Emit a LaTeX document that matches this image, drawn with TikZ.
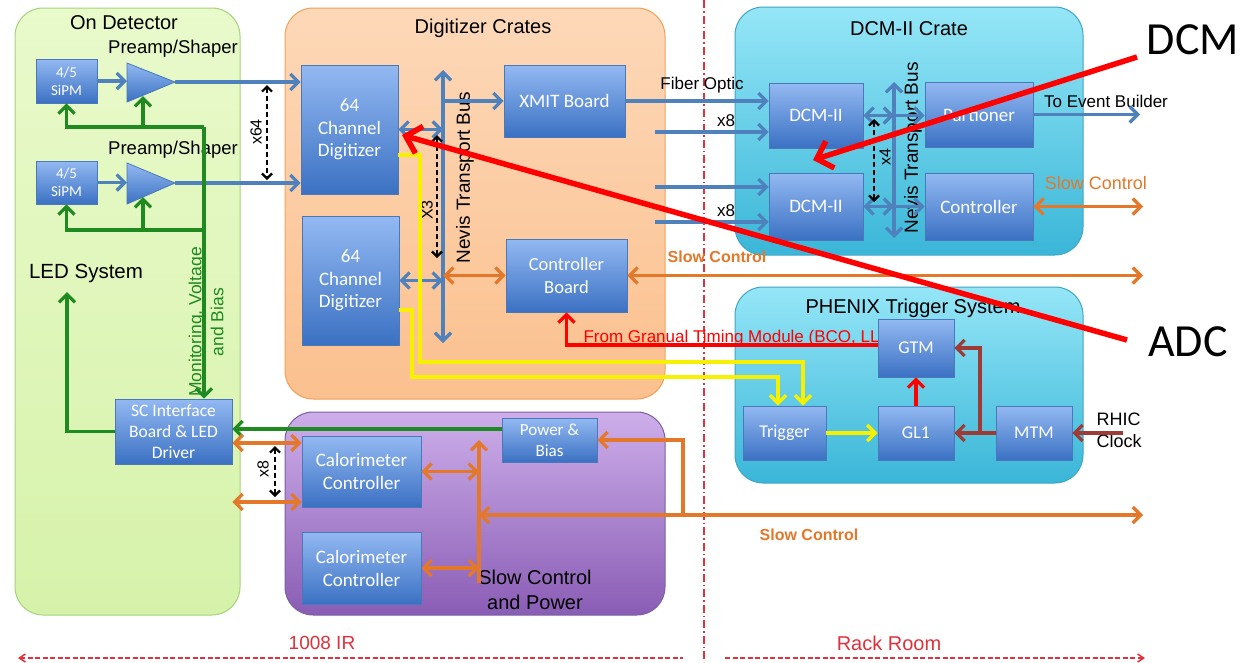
\documentclass[tikz,border=0pt]{standalone}
\usepackage{fontspec}
\setmainfont{Liberation Sans}
\newfontfamily\calfont{Carlito}
\usetikzlibrary{arrows.meta}
\definecolor{cBlue}{HTML}{4F81BD}
\definecolor{cGreen}{HTML}{1F8A1F}
\definecolor{cOrange}{HTML}{E3782A}
\definecolor{cYellow}{HTML}{F7F000}
\definecolor{cBrown}{HTML}{9E3B36}
\definecolor{cRed}{HTML}{FF0000}
\definecolor{cDiv}{HTML}{E0313C}
\definecolor{bxTop}{HTML}{93B9F2}
\definecolor{bxBot}{HTML}{3B71C3}
\definecolor{bxLine}{HTML}{4A78B8}
\definecolor{gTop}{HTML}{E9FACB}
\definecolor{gBot}{HTML}{D6F2AA}
\definecolor{gLine}{HTML}{A6D27C}
\definecolor{oTop}{HTML}{FDD8B8}
\definecolor{oBot}{HTML}{FBC08E}
\definecolor{oLine}{HTML}{F2A15A}
\definecolor{pTop}{HTML}{CDAEEA}
\definecolor{pBot}{HTML}{8A5DB5}
\definecolor{pLine}{HTML}{7D5FA0}
\definecolor{cyTop}{HTML}{95E6F7}
\definecolor{cyBot}{HTML}{3AB6D8}
\definecolor{cyLine}{HTML}{3FA6C4}
\newcommand\fsz[2]{\fontsize{#1}{#2}\selectfont}
\tikzset{
  bx/.style={rectangle, draw=bxLine, line width=0.8pt, top color=bxTop, bottom color=bxBot,
    text=white, align=center, inner sep=0pt, font=\calfont\fsz{19}{22.5}},
  panel/.style={rounded corners=28pt, line width=1pt},
  ln/.style={line width=3.2pt},
  bl/.style={ln, draw=cBlue},
  gr/.style={ln, draw=cGreen},
  orl/.style={ln, draw=cOrange},
  yl/.style={line width=3.4pt, draw=cYellow},
  br/.style={ln, draw=cBrown},
  rdl/.style={ln, draw=cRed},
  dashar/.style={<->, >={Straight Barb[length=5pt,width=10pt]}, draw=black, line width=2.2pt, dash pattern=on 5pt off 3pt},
  annot/.style={->, >={Straight Barb[length=14pt,width=28pt]}, draw=cRed, line width=5.5pt},
  lbl/.style={font=\fsz{17}{20}},
  ttl/.style={font=\fsz{20}{24}},
}
\begin{document}
\begin{tikzpicture}[x=1pt,y=-1pt, >={Straight Barb[length=8pt,width=16pt]}]
\useasboundingbox (0,0) rectangle (1251,662);
\fill[white] (0,0) rectangle (1251,662);

% panels
\path[panel, draw=gLine, top color=gTop, bottom color=gBot] (15,8) rectangle (240,615);
\path[panel, draw=oLine, top color=oTop, bottom color=oBot] (285,8) rectangle (665,399);
\path[panel, draw=pLine, top color=pTop, bottom color=pBot] (285,412) rectangle (665,615);
\path[panel, draw=cyLine, top color=cyTop, bottom color=cyBot] (735,7) rectangle (1083,255);
\path[panel, draw=cyLine, top color=cyTop, bottom color=cyBot] (735,287) rectangle (1083,483);

% titles
\node[ttl] (tOD) at (124,23) {On Detector};
\node[ttl] (tDC) at (483,28) {Digitizer Crates};
\node[ttl] (tDCM) at (909,29) {DCM-II Crate};
\node[ttl] (tPH) at (913,308) {PHENIX Trigger System};
\node[ttl, align=center, font=\fsz{20}{25}] (tSCP) at (535,590) {Slow Control\\and Power};

% dividers
\coordinate (vdT) at (704,0);
\coordinate (vdB) at (704,662);
\draw[cDiv, line width=1.3pt, dash pattern=on 8pt off 3pt on 1.5pt off 3pt] (vdT) -- (vdB);
\coordinate (irL) at (18,658);
\coordinate (irR) at (683,658);
\coordinate (rrL) at (725,658);
\coordinate (rrR) at (1145,658);
\draw[cDiv, line width=1.5pt, dash pattern=on 5pt off 2.5pt, <-, >={Straight Barb[length=6pt,width=8pt]}] (irL) -- (irR);
\draw[cDiv, line width=1.5pt, dash pattern=on 5pt off 2.5pt, ->, >={Straight Barb[length=6pt,width=8pt]}] (rrL) -- (rrR);
\node[text=cDiv, font=\fsz{19}{22}] (tIR) at (322,643) {1008 IR};
\node[text=cDiv, font=\fsz{20}{24}] (tRR) at (889,643) {Rack Room};

% red timing label (under the GTM box)
\node[text=cRed, anchor=base west, font=\fsz{17}{20}] (tGTM) at (580,342) {From Granual Timing Module (BCO, LL1)};

% labels
\node[font=\fsz{18.5}{22}] (tPA1) at (173,49) {Preamp/Shaper};
\node[font=\fsz{18.5}{22}] (tPA2) at (173,150) {Preamp/Shaper};
\node[font=\fsz{20.5}{24}] (tLED) at (86,273) {LED System};
\node[rotate=90, text=cGreen, align=center, font=\fsz{17.5}{22}] (tMon) at (206,322) {Monitoring, Voltage\\and Bias};
\node[rotate=90, font=\fsz{16}{19}] (tx64) at (256,132) {x64};
\node[rotate=90, font=\fsz{16}{19}] (tX3) at (427,210) {X3};
\node[rotate=90, font=\fsz{16}{19}] (tx4) at (885,157) {x4};
\node[rotate=90, font=\fsz{16}{19}] (tx8b) at (263,469) {x8};
\node[rotate=90, font=\fsz{19}{22}] (tNev1) at (465,178) {Nevis Transport Bus};
\node[rotate=90, font=\fsz{19}{22}] (tNev2) at (913,148) {Nevis Transport Bus};
\node[lbl] (tFO) at (702,85) {Fiber Optic};
\node[lbl] (tx8a) at (726,121) {x8};
\node[lbl] (tx8c) at (726,211) {x8};
\node[lbl] (tEVB) at (1106,101) {To Event Builder};
\node[text=cOrange, font=\fsz{18}{22}] (tSC1) at (1096,183) {Slow Control};
\node[text=cOrange, font=\bfseries\fsz{16}{19}] (tSC2) at (717,257) {Slow Control};
\node[text=cOrange, font=\bfseries\fsz{16}{19}] (tSC3) at (809,535) {Slow Control};
\node[anchor=west, align=left, font=\fsz{18}{22}] (tRHIC) at (1093,430) {RHIC\\Clock};

% free-end coordinates
\coordinate (busT) at (443,70);
\coordinate (busB) at (443,343);
\coordinate (bus2T) at (894,82);
\coordinate (bus2B) at (894,238);
\coordinate (busPT) at (479,440);
\coordinate (busPB) at (479,583);
\coordinate (gj1) at (204,127);
\coordinate (gj2) at (204,230);
\coordinate (ledtip) at (67,292);
\coordinate (amp1w) at (127,82);
\coordinate (amp1e) at (175,82);
\coordinate (amp1s) at (143,96);
\coordinate (amp2w) at (127,183);
\coordinate (amp2e) at (175,183);
\coordinate (amp2s) at (143,197);
\coordinate (scR) at (1143,270);
\coordinate (evbR) at (1140,0);
\coordinate (f2) at (655,132);
\coordinate (f3) at (655,187);
\coordinate (f4) at (655,222);
\coordinate (x64a) at (267,85);
\coordinate (x64b) at (267,180);
\coordinate (x3a) at (437,135);
\coordinate (x3b) at (437,258);
\coordinate (x4a) at (874,119);
\coordinate (x4b) at (874,202);
\coordinate (x8a) at (275,446);
\coordinate (x8b) at (275,497);
\coordinate (scLong) at (1143,515);
\coordinate (brj) at (683,515);
\coordinate (brn) at (980,433);
\coordinate (rhic) at (1123,433);

% boxes
\node[bx, font=\calfont\fsz{15}{18}, minimum width=61pt, minimum height=44pt] (sipm1) at (66.5,81) {4/5\\SiPM};
\node[bx, font=\calfont\fsz{15}{18}, minimum width=61pt, minimum height=43pt] (sipm2) at (66.5,182.5) {4/5\\SiPM};
\node[bx, font=\calfont\fsz{17.5}{21}, minimum width=117pt, minimum height=65pt] (sc) at (173.5,431.5) {SC Interface\\Board \& LED\\Driver};
\node[bx, minimum width=97pt, minimum height=129pt] (dig1) at (349.5,129.5) {64\\Channel\\Digitizer};
\node[bx, minimum width=97pt, minimum height=129pt] (dig2) at (350.5,280.5) {64\\Channel\\Digitizer};
\node[bx, minimum width=121pt, minimum height=72pt] (xmit) at (564.5,101) {XMIT Board};
\node[bx, font=\calfont\fsz{18.5}{22.5}, minimum width=121pt, minimum height=73pt] (cb) at (566.5,275.5) {Controller\\Board};
\node[bx, font=\calfont\fsz{19}{23}, minimum width=119pt, minimum height=71pt] (cal1) at (361.5,471.5) {Calorimeter\\Controller};
\node[bx, font=\calfont\fsz{19}{23}, minimum width=119pt, minimum height=72pt] (cal2) at (361.5,568) {Calorimeter\\Controller};
\node[bx, font=\calfont\fsz{17}{21}, minimum width=95pt, minimum height=44pt] (pb) at (549.5,440) {Power \&\\Bias};
\node[bx, minimum width=94pt, minimum height=65pt] (dcm1) at (816,115.5) {DCM-II};
\node[bx, minimum width=94pt, minimum height=67pt] (dcm2) at (816,206.5) {DCM-II};
\node[bx, minimum width=108pt, minimum height=65pt] (part) at (979,114.5) {Partioner};
\node[bx, minimum width=108pt, minimum height=67pt] (ctrl) at (979,206.5) {Controller};
\node[bx, font=\calfont\fsz{18}{22}, minimum width=83pt, minimum height=54pt] (trig) at (784.5,433) {Trigger};
\node[bx, font=\calfont\fsz{18}{22}, minimum width=76pt, minimum height=58pt] (gtm) at (916,348) {GTM};
\node[bx, font=\calfont\fsz{18}{22}, minimum width=76pt, minimum height=54pt] (gl1) at (916,433) {GL1};
\node[bx, font=\calfont\fsz{18}{22}, minimum width=76pt, minimum height=54pt] (mtm) at (1034,433) {MTM};
% preamp triangles
\path[draw=bxLine, line width=0.8pt, top color=bxTop, bottom color=bxBot] (127,63) -- (175,82) -- (127,102) -- cycle;
\path[draw=bxLine, line width=0.8pt, top color=bxTop, bottom color=bxBot] (127,163) -- (175,183) -- (127,204) -- cycle;

% blue connectors
\draw[bl, ->] (sipm1.east) -- (sipm1.east -| amp1w);
\draw[bl, ->] (sipm2.east) -- (sipm2.east -| amp2w);
\draw[bl, ->] (amp1e) -- (amp1e -| dig1.west);
\draw[bl, ->] (amp2e) -- (amp2e -| dig1.west);
\draw[bl, <->] (busB) -- (busT);
\draw[bl, <->] (dig1.east) -- (dig1.east -| busT);
\draw[bl, <->] (dig2.east) -- (dig2.east -| busT);
\draw[bl, ->] (xmit.west -| busT) -- (xmit.west);
\draw[bl, ->] (xmit.east) -- (xmit.east -| dcm1.west);
\draw[bl, ->] (f2) -- (f2 -| dcm1.west);
\draw[bl, ->] (f3) -- (f3 -| dcm2.west);
\draw[bl, ->] (f4) -- (f4 -| dcm2.west);
\draw[bl, <->] (bus2B) -- (bus2T);
\draw[bl, <->] (dcm1.east) -- (dcm1.east -| bus2T);
\draw[bl, ->] (dcm1.east -| bus2T) -- (dcm1.east -| part.west);
\draw[bl, <->] (dcm2.east) -- (dcm2.east -| bus2T);
\draw[bl, ->] (dcm2.east -| bus2T) -- (dcm2.east -| ctrl.west);
\draw[bl, ->] (part.east) -- (part.east -| evbR);

% dashed multiplicity arrows
\draw[dashar] (x64a) -- (x64b);
\draw[dashar] (x3a) -- (x3b);
\draw[dashar] (x4a) -- (x4b);
\draw[dashar] (x8a) -- (x8b);

% green connectors
\draw[gr, ->] (gj1) -| (sipm1.south);
\draw[gr, ->] (gj1 -| amp1s) -- (amp1s);
\draw[gr, ->] (gj2) -| (sipm2.south);
\draw[gr, ->] (gj2 -| amp2s) -- (amp2s);
\draw[gr, ->] (gj1) -- (gj1 |- sc.north);
\draw[gr, ->] (sc.west) -| (ledtip);
\draw[gr, ->] (pb.west |- 0,429) -- (sc.east |- 0,429);

% orange connectors
\draw[orl, <->] (cb.west -| busT) -- (cb.west);
\draw[orl, <->] (cb.east) -- (cb.east -| scR);
\draw[orl, <->] (ctrl.east) -- (ctrl.east -| scR);
\draw[orl, <->] (sc.east |- 0,443) -- (cal1.west |- 0,443);
\draw[orl, <->] (sc.east |- 0,502) -- (cal1.west |- 0,502);
\draw[orl, ->] (busPB) -- (busPT);
\draw[orl, <->] (cal1.east) -- (cal1.east -| busPT);
\draw[orl, <->] (cal2.east) -- (cal2.east -| busPT);
\draw[orl, <->] (busPT |- scLong) -- (scLong);
\draw[orl, ->] (brj) |- (pb.east);

% yellow trigger lines
\draw[yl, ->] (dig1.east |- 0,155) -- (420,155) -- (420,362) -- (803,362) -- (trig.north -| 803,0);
\draw[yl, ->] (dig2.east |- 0,310) -- (412,310) -- (412,377) -- (778,377) -- (trig.north -| 778,0);
\draw[yl, ->] (trig.east) -- (gl1.west);

% red timing
\draw[rdl, ->] (gtm.west |- 0,345) -| (cb.south);
\draw[rdl, ->] (gl1.north) -- (gtm.south);

% brown clock
\draw[br, ->] (mtm.west) -- (gl1.east);
\draw[br, ->] (brn) |- (gtm.east);
\draw[br, ->] (rhic) -- (mtm.east);

% annotation arrows
\node[font=\calfont\fsz{46}{50}] (dcmL) at (1193,40) {DCM};
\node[font=\calfont\fsz{46}{50}] (adcL) at (1188,342) {ADC};
\coordinate (dcmS) at (1137,57);
\coordinate (dcmT) at (813,160);
\coordinate (adcS) at (1127,340);
\coordinate (adcT) at (402,135);
\draw[annot] (dcmS) -- (dcmT);
\draw[annot] (adcS) -- (adcT);
\end{tikzpicture}
\end{document}
